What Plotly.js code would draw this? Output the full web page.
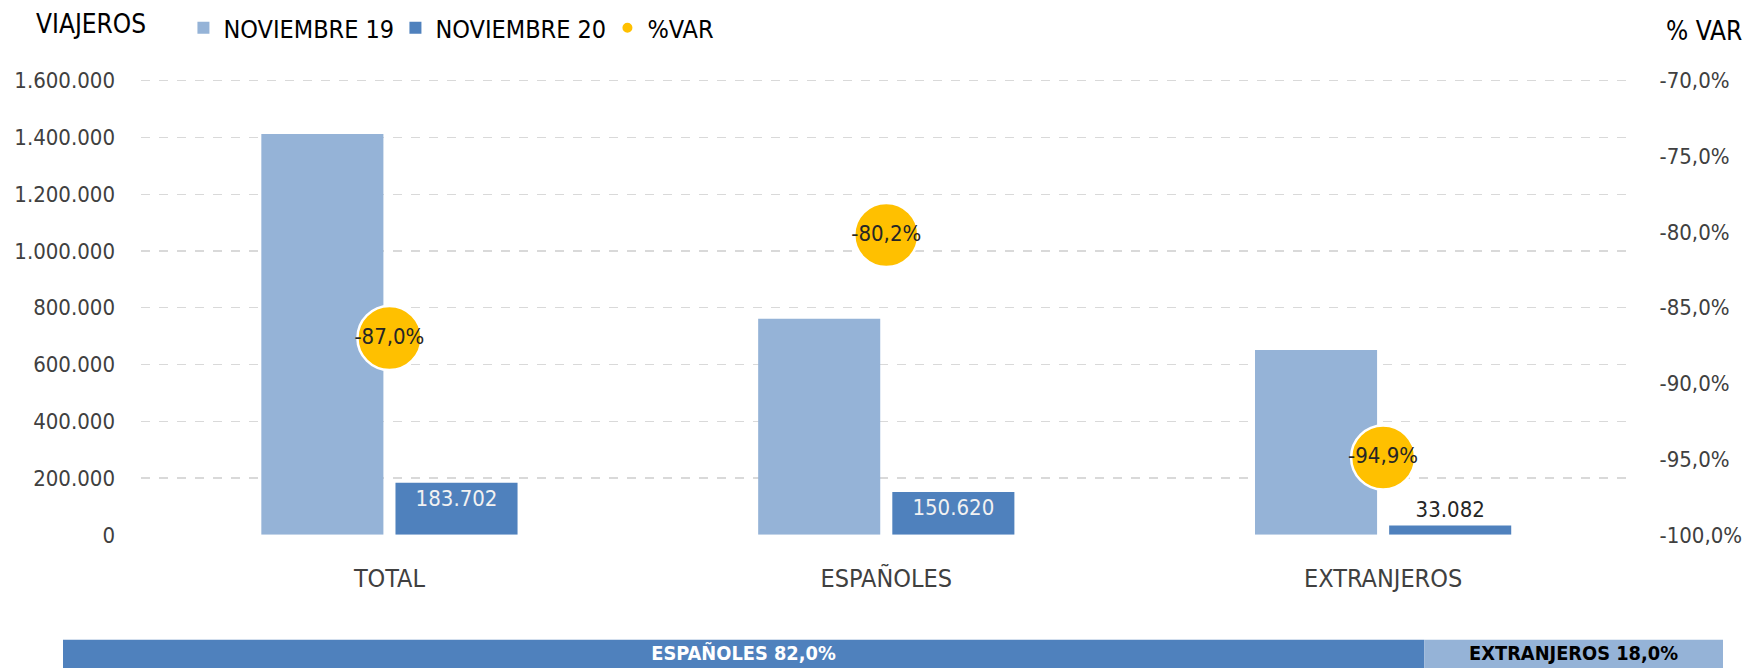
<!DOCTYPE html>
<html>
<head>
<meta charset="utf-8">
<script src="https://cdn.plot.ly/plotly-3.0.1.min.js"></script>
<style>html,body{margin:0;padding:0;background:#fff;}</style>
</head>
<body>
<div id="chart" style="width:1747px;height:668px;"></div>
<script>
// ---- data ----
var categories = ['TOTAL', 'ESPAÑOLES', 'EXTRANJEROS'];
var nov19 = [1412300, 760800, 651500];
var nov20 = [183702, 150620, 33082];
var pctVar = [-87.0, -80.2, -94.9];
var seriesNames = ['NOVIEMBRE 19', 'NOVIEMBRE 20', '%VAR'];
var shareLabels = ['ESPAÑOLES', 'EXTRANJEROS'];
var shareValues = [82.0, 18.0];
var leftTickVals = [0, 200000, 400000, 600000, 800000, 1000000, 1200000, 1400000, 1600000];
var rightTickVals = [-100, -95, -90, -85, -80, -75, -70];
var rightTickText = ['-100,0%', '-95,0%', '-90,0%', '-85,0%', '-80,0%', '-75,0%', '-70,0%'];

var FONT = '"DejaVu Sans Condensed", "DejaVu Sans", sans-serif';
var C_LIGHT = '#95B3D7', C_DARK = '#4F81BD', C_YEL = '#FFC000';

var traces = [
  {
    type: 'bar', name: seriesNames[0], x: categories, y: nov19,
    marker: {color: C_LIGHT, line: {width: 0}},
    xaxis: 'x', yaxis: 'y', hoverinfo: 'skip'
  },
  {
    type: 'bar', name: seriesNames[1], x: categories, y: nov20,
    marker: {color: C_DARK, line: {width: 0}},
    texttemplate: '%{y:,.0f}',
    textposition: ['inside', 'inside', 'outside'],
    insidetextanchor: 'end',
    textangle: 0,
    insidetextfont: {family: FONT, size: 22, color: '#F2F2F2'},
    outsidetextfont: {family: FONT, size: 22, color: '#262626'},
    cliponaxis: false,
    xaxis: 'x', yaxis: 'y', hoverinfo: 'skip'
  },
  {
    type: 'scatter', mode: 'markers+text', name: seriesNames[2],
    x: categories, y: pctVar,
    marker: {color: C_YEL, size: 64, line: {color: '#FFFFFF', width: 2.5}},
    texttemplate: '%{y:.1f}%', textposition: 'middle center',
    textfont: {family: FONT, size: 22, color: '#262626'},
    cliponaxis: false,
    xaxis: 'x', yaxis: 'y2', hoverinfo: 'skip'
  },
  {
    type: 'bar', orientation: 'h', showlegend: false,
    x: [shareValues[0]], y: [0], text: [shareLabels[0]],
    width: 1, offset: -0.5,
    marker: {color: C_DARK, line: {width: 0}},
    texttemplate: '%{text} %{value:.1f}%', textposition: 'inside', insidetextanchor: 'middle', textangle: 0,
    insidetextfont: {family: FONT, size: 22, color: '#FFFFFF', weight: 'bold'},
    xaxis: 'x2', yaxis: 'y3', hoverinfo: 'skip'
  },
  {
    type: 'bar', orientation: 'h', showlegend: false,
    x: [shareValues[1]], y: [0], base: [shareValues[0]], text: [shareLabels[1]],
    width: 1, offset: -0.5,
    marker: {color: C_LIGHT, line: {width: 0}},
    texttemplate: '%{text} %{value:.1f}%', textposition: 'inside', insidetextanchor: 'middle', textangle: 0,
    insidetextfont: {family: FONT, size: 22, color: '#000000', weight: 'bold'},
    xaxis: 'x2', yaxis: 'y3', hoverinfo: 'skip'
  }
];

var layout = {
  width: 1747, height: 668,
  margin: {l: 63, r: 24, t: 75, b: 0, pad: 0},
  paper_bgcolor: '#FFFFFF', plot_bgcolor: 'rgba(0,0,0,0)',
  separators: ',.',
  font: {family: FONT, size: 22, color: '#404040'},
  barmode: 'group', bargap: 0.46, bargroupgap: 0.09,
  showlegend: true,
  legend: {
    orientation: 'h', xref: 'container', yref: 'container',
    x: 0.105, xanchor: 'left', y: 0.958, yanchor: 'middle',
    font: {family: FONT, size: 25, color: '#000000'},
    entrywidth: 167, entrywidthmode: 'pixels',
    itemsizing: 'constant', traceorder: 'normal', bgcolor: 'rgba(0,0,0,0)'
  },
  xaxis: {
    domain: [0.047, 0.9449], type: 'category', anchor: 'y',
    showgrid: false, showline: false, zeroline: false, ticks: '',
    tickfont: {family: FONT, size: 25, color: '#404040'},
    ticklabelstandoff: 26
  },
  yaxis: {
    domain: [0.2246, 1], range: [0, 1620000],
    tickmode: 'array', tickvals: leftTickVals, tickformat: ',d',
    showgrid: true, gridcolor: '#D9D9D9', griddash: 'dash', gridwidth: 1.3,
    zeroline: false, showline: false, ticks: '',
    tickfont: {family: FONT, size: 22, color: '#404040'},
    ticklabelstandoff: 25, fixedrange: true
  },
  yaxis2: {
    overlaying: 'y', side: 'right', anchor: 'x', range: [-100, -69.625],
    tickmode: 'array', tickvals: rightTickVals, ticktext: rightTickText,
    showgrid: false, zeroline: false, showline: false, ticks: '',
    tickfont: {family: FONT, size: 22, color: '#404040'},
    ticklabelstandoff: 27
  },
  xaxis2: {domain: [0, 1], range: [0, 100], anchor: 'y3', visible: false},
  yaxis3: {domain: [0, 0.0481], range: [-0.5, 0.5], anchor: 'x2', visible: false},
  annotations: [
    {text: 'VIAJEROS', xref: 'paper', yref: 'paper', x: 0.0169, y: 1.0852, xanchor: 'center', yanchor: 'middle',
     showarrow: false, font: {family: FONT, size: 26, color: '#000000'}},
    {text: '% VAR', xref: 'paper', yref: 'paper', x: 0.9886, y: 1.0742, xanchor: 'center', yanchor: 'middle',
     showarrow: false, font: {family: FONT, size: 26, color: '#000000'}}
  ]
};

Plotly.newPlot('chart', traces, layout, {displayModeBar: false, staticPlot: true});
</script>
</body>
</html>
